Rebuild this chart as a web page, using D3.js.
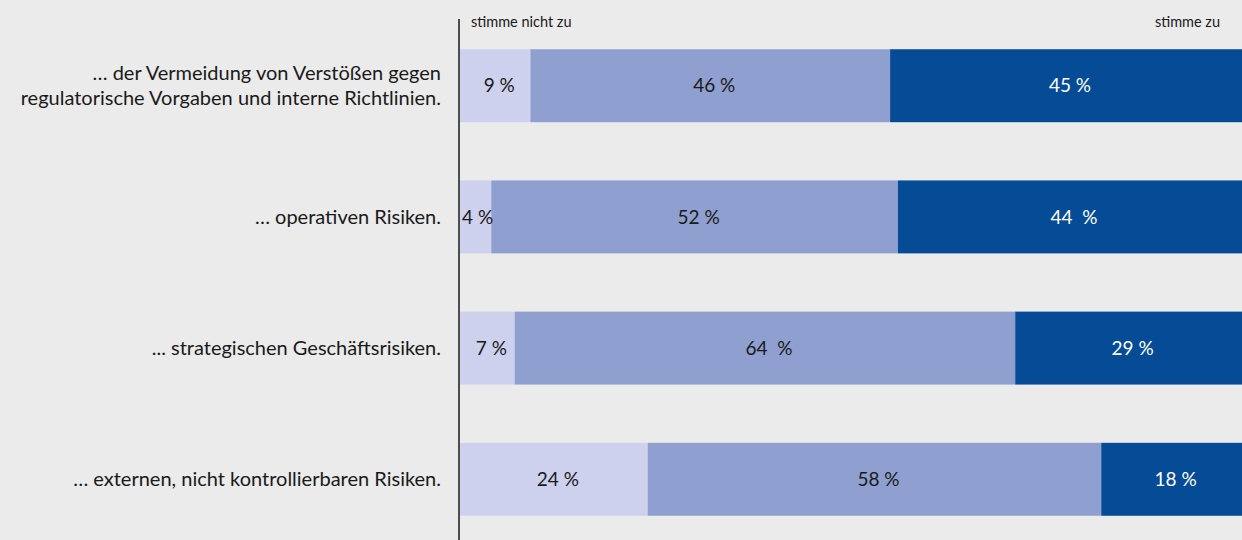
<!DOCTYPE html>
<html lang="de">
<head>
    <meta charset="UTF-8">
    <title>Risiken</title>
    <script src="https://cdn.jsdelivr.net/npm/d3@7/dist/d3.min.js"></script>
    <style>
        body { margin: 0; background: #ebebeb; }
        svg { display: block; font-family: Lato, "Open Sans", sans-serif; }
    </style>
</head>
<body>
<script>
    // Kategorien (zwei Zeilen für die erste)
    let categories = [
        ['… der Vermeidung von Verstößen gegen', 'regulatorische Vorgaben und interne Richtlinien.'],
        ['… operativen Risiken.'],
        ['... strategischen Geschäftsrisiken.'],
        ['… externen, nicht kontrollierbaren Risiken.']
    ];
    let series = ['stimme nicht zu', 'teils', 'stimme zu'];
    let disagree = [9, 4, 7, 24];
    let neutral = [46, 52, 64, 58];
    let agree = [45, 44, 29, 18];
    // Beschriftungen wie im Original (teils mit doppeltem Leerzeichen)
    let disagreeLabels = ['9 %', '4 %', '7 %', '24 %'];
    let neutralLabels = ['46 %', '52 %', '64  %', '58 %'];
    let agreeLabels = ['45 %', '44  %', '29 %', '18 %'];

    let width = 1242, height = 540;
    let colors = ['#cdd1ed', '#8f9fcf', '#054b96'];
    let textColors = ['#1a1a1a', '#1a1a1a', '#ffffff'];

    let svg = d3.select('body').append('svg')
        .attr('width', width)
        .attr('height', height);

    let x = d3.scaleLinear().domain([0, 100]).range([460, 1242]);
    let y = d3.scaleBand()
        .domain(d3.range(categories.length))
        .range([23, 542])
        .paddingInner(0.444)
        .paddingOuter(0.2);

    let rows = categories.map(function (c, i) {
        return {i: i, values: [disagree[i], neutral[i], agree[i]],
            labels: [disagreeLabels[i], neutralLabels[i], agreeLabels[i]]};
    });

    let segs = [];
    rows.forEach(function (r) {
        let acc = 0;
        r.values.forEach(function (v, k) {
            segs.push({i: r.i, k: k, x0: acc, x1: acc + v, label: r.labels[k]});
            acc += v;
        });
    });

    svg.selectAll('rect.seg')
        .data(segs)
        .enter()
        .append('rect')
        .attr('class', 'seg')
        .attr('x', d => x(d.x0))
        .attr('y', d => y(d.i))
        .attr('width', d => x(d.x1) - x(d.x0))
        .attr('height', y.bandwidth())
        .attr('fill', d => colors[d.k]);

    svg.selectAll('text.val')
        .data(segs)
        .enter()
        .append('text')
        .attr('class', 'val')
        .attr('x', function (d) {
            let w = x(d.x1) - x(d.x0);
            return w < 40 ? x(d.x0) + 2 : (x(d.x0) + x(d.x1)) / 2 + 4;
        })
        .attr('y', d => y(d.i) + y.bandwidth() / 2)
        .attr('dy', '0.35em')
        .attr('text-anchor', d => (x(d.x1) - x(d.x0)) < 40 ? 'start' : 'middle')
        .attr('font-size', 19)
        .attr('fill', d => textColors[d.k])
        .style('white-space', 'pre')
        .text(d => d.label);

    // Kategorienbeschriftung
    let cat = svg.selectAll('text.cat')
        .data(categories)
        .enter()
        .append('text')
        .attr('class', 'cat')
        .attr('text-anchor', 'end')
        .attr('font-size', 20)
        .attr('fill', '#1a1a1a')
        .attr('transform', (d, i) => 'translate(441,' + (y(i) + y.bandwidth() / 2) + ')');
    cat.selectAll('tspan')
        .data(d => d.map((t, j) => ({t: t, j: j, n: d.length})))
        .enter()
        .append('tspan')
        .attr('x', 0)
        .attr('y', d => (d.j - (d.n - 1) / 2) * 24.5)
        .attr('dy', '0.35em')
        .text(d => d.t);

    // Achse
    svg.append('line')
        .attr('x1', 459).attr('x2', 459)
        .attr('y1', 19).attr('y2', height)
        .attr('stroke', '#1a1a1a')
        .attr('stroke-width', 1.5);

    svg.append('text')
        .attr('x', 471).attr('y', 27)
        .attr('font-size', 14.5)
        .attr('fill', '#1a1a1a')
        .text(series[0]);
    svg.append('text')
        .attr('x', 1220).attr('y', 27)
        .attr('text-anchor', 'end')
        .attr('font-size', 14.5)
        .attr('fill', '#1a1a1a')
        .text(series[2]);
</script>
</body>
</html>
